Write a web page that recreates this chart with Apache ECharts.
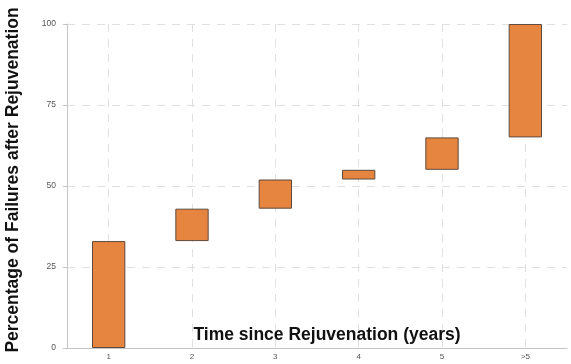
<!DOCTYPE html>
<html><head><meta charset="utf-8">
<script src="https://cdn.jsdelivr.net/npm/echarts@6/dist/echarts.min.js"></script>
<style>html,body{margin:0;padding:0;background:#fff}#c{width:571px;height:364px}</style>
</head><body><div id="c"></div>
<script>
const categories = ['1', '2', '3', '4', '5', '>5'];
const rangeLow  = [0, 33, 43, 52, 55, 65];
const rangeHigh = [33, 43, 52, 55, 65, 100];
const yTicks = [0, 25, 50, 75, 100];
const xTitle = 'Time since Rejuvenation (years)';
const yTitle = 'Percentage of Failures after Rejuvenation';

const titleStyle = { font: 'bold 17.5px "Liberation Sans"', fill: '#111', align: 'center', verticalAlign: 'middle' };

const chart = echarts.init(document.getElementById('c'));
chart.setOption({
  animation: false,
  backgroundColor: '#fff',
  grid: { left: 67, right: 4, top: 24, bottom: 16, containLabel: false, outerBoundsMode: 'none' },
  graphic: [
    { type: 'text', x: 327, y: 335, z: 10, style: Object.assign({ text: xTitle }, titleStyle) },
    { type: 'text', x: 13, y: 180, rotation: Math.PI / 2, z: 10, style: Object.assign({ text: yTitle }, titleStyle) }
  ],
  xAxis: {
    type: 'category',
    data: categories,
    axisLine: { lineStyle: { color: '#c4c4c4', width: 1 } },
    axisTick: { show: false },
    axisLabel: { fontFamily: 'Liberation Sans', fontSize: 8, color: '#555', margin: 5 },
    splitLine: { show: true, alignWithLabel: true, lineStyle: { color: '#e0e0e0', type: [8, 7], width: 1 } }
  },
  yAxis: {
    type: 'value',
    min: yTicks[0], max: yTicks[yTicks.length - 1], interval: 25,
    axisLine: { show: true, lineStyle: { color: '#c4c4c4', width: 1 } },
    axisTick: { show: true, length: 4, lineStyle: { color: '#c4c4c4' } },
    axisLabel: { fontFamily: 'Liberation Sans', fontSize: 8.5, color: '#555', margin: 11 },
    splitLine: { show: true, lineStyle: { color: '#e0e0e0', type: [8, 7], width: 1 } }
  },
  series: [
    {
      type: 'bar', stack: 'r', barWidth: '40%', silent: true,
      itemStyle: { color: 'transparent', borderWidth: 0 },
      data: rangeLow
    },
    {
      type: 'bar', stack: 'r', barWidth: '40%',
      itemStyle: { color: '#E6853F', borderColor: '#5e4a3c', borderWidth: 1 },
      data: rangeHigh.map((h, i) => h - rangeLow[i])
    }
  ]
});
</script></body></html>
